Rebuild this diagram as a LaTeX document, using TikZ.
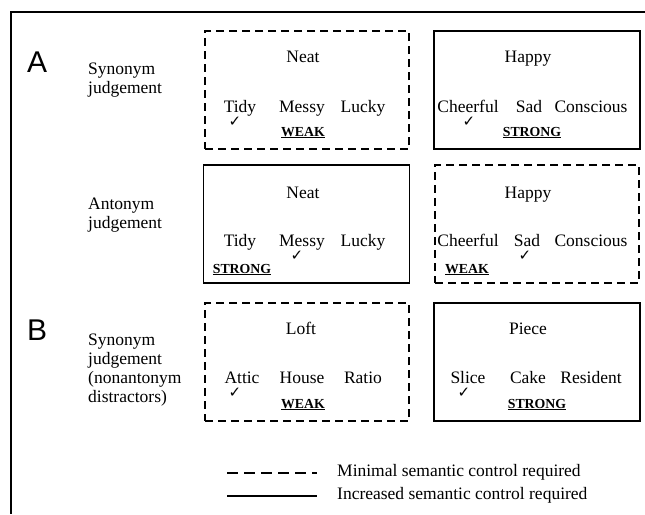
\documentclass[tikz,border=0pt]{standalone}
\usepackage{fontspec}
\setmainfont{Liberation Serif}
\newfontfamily\panelfont{Liberation Sans}
\newfontfamily\tickfont{DejaVu Sans}
\usetikzlibrary{positioning}

\begin{document}
\begin{tikzpicture}[x=1pt,y=-1pt,
            weak box/.style={draw,line width=1.8pt,dash pattern=on 8pt off 5pt,minimum width=204pt,minimum height=118pt,inner sep=0pt},
            strong box/.style={draw,line width=1.8pt,minimum width=206pt,minimum height=118pt,inner sep=0pt},
            word/.style={anchor=base,inner sep=0pt,font=\fontsize{17.5}{19}\selectfont},
            level/.style={anchor=base,inner sep=0pt,font=\fontsize{13.8}{15}\selectfont\bfseries},
            tick/.style={inner sep=0pt,font=\fontsize{15}{15}\tickfont\bfseries},
            task/.style={anchor=west,align=left,inner sep=0pt,font=\fontsize{17.5}{19}\selectfont},
            panel/.style={anchor=west,inner sep=0pt,font=\fontsize{30}{30}\panelfont}]

        \useasboundingbox (0,0) rectangle (645,514);

        % Frame
        \coordinate (fr) at (645,12);
        \coordinate (fc) at (11,12);
        \coordinate (fb) at (11,514);
        \draw[line width=2pt] (fr) -- (fc) -- (fb);

        % Panels and tasks
        \node[panel] (A) at (27,62) {A};
        \node[panel] (B) at (27,330) {B};
        \node[task] (syn1) at (88,80) {Synonym\\judgement};
        \node[task] (ant) at (88,215) {Antonym\\judgement};
        \node[task] (syn2) at (88,370) {Synonym\\judgement\\(nonantonym\\distractors)};

        % Define boxes
        \node[weak box] (neat1) at (307,90) {};
        \node[strong box] (happy1) at (537,90) {};
        \node[strong box] (neat2) at (306.5,224) {};
        \node[weak box] (happy2) at (537,224) {};
        \node[weak box] (loft) at (307,362) {};
        \node[strong box] (piece) at (537,362) {};

        % Row 1
        \node[word] (neat1h) at (303,62) {Neat};
        \node[word] (tidy1) at (240,112) {Tidy};
        \node[word] (messy1) at (302,112) {Messy};
        \node[word] (lucky1) at (363,112) {Lucky};
        \node[tick] (tick1) at (235,122) {✓};
        \node[level] (weak1) at (303,136) {\underline{WEAK}};

        \node[word] (happy1h) at (528,62) {Happy};
        \node[word] (cheer1) at (468,112) {Cheerful};
        \node[word] (sad1) at (529,112) {Sad};
        \node[word] (consc1) at (591,112) {Conscious};
        \node[tick] (tick2) at (469,122) {✓};
        \node[level] (strong1) at (532,136) {\underline{STRONG}};

        % Row 2
        \node[word] (neat2h) at (303,198) {Neat};
        \node[word] (tidy2) at (240,246) {Tidy};
        \node[word] (messy2) at (302,246) {Messy};
        \node[word] (lucky2) at (363,246) {Lucky};
        \node[tick] (tick3) at (297,256) {✓};
        \node[level] (strong2) at (242,273) {\underline{STRONG}};

        \node[word] (happy2h) at (528,198) {Happy};
        \node[word] (cheer2) at (468,246) {Cheerful};
        \node[word] (sad2) at (527,246) {Sad};
        \node[word] (consc2) at (591,246) {Conscious};
        \node[tick] (tick4) at (525,256) {✓};
        \node[level] (weak2) at (467,273) {\underline{WEAK}};

        % Row 3
        \node[word] (lofth) at (301,334) {Loft};
        \node[word] (attic) at (242,383) {Attic};
        \node[word] (house) at (302,383) {House};
        \node[word] (ratio) at (363,383) {Ratio};
        \node[tick] (tick5) at (235,393) {✓};
        \node[level] (weak3) at (303,408) {\underline{WEAK}};

        \node[word] (pieceh) at (528,334) {Piece};
        \node[word] (slice) at (468,383) {Slice};
        \node[word] (cake) at (528,383) {Cake};
        \node[word] (resid) at (591,383) {Resident};
        \node[tick] (tick6) at (464,393) {✓};
        \node[level] (strong3) at (537,408) {\underline{STRONG}};

        % Legend
        \coordinate (dash1) at (227,473);
        \coordinate (dash2) at (317,473);
        \coordinate (line1) at (227,496);
        \coordinate (line2) at (317,496);
        \draw[line width=1.8pt,dash pattern=on 11pt off 6pt] (dash1) -- (dash2);
        \draw[line width=1.8pt] (line1) -- (line2);
        \node[task] (minimal) at (337,472) {Minimal semantic control required};
        \node[task] (increased) at (337,495) {Increased semantic control required};

        \end{tikzpicture}
\end{document}
